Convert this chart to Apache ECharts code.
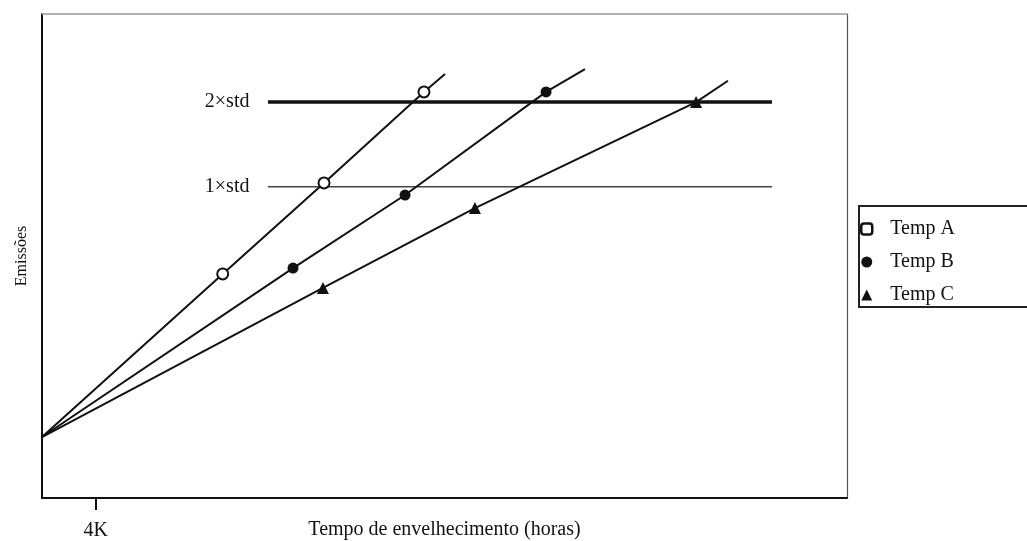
<!DOCTYPE html>
<html>
<head>
<meta charset="utf-8">
<script src="https://cdn.jsdelivr.net/npm/echarts@6/dist/echarts.min.js"></script>
<style>html,body{margin:0;padding:0;background:#fff;}#c{width:1027px;height:541px;}</style>
</head>
<body>
<div id="c"></div>
<script>
// Data (x in thousands of hours, y in arbitrary emission units)
const seriesNames = ['Temp A', 'Temp B', 'Temp C'];
const xTempA = [0, 13.47, 21.02, 28.47, 30.04];
const yTempA = [12.6, 46.3, 65.1, 83.9, 87.6];
const xTempB = [0, 18.71, 27.06, 37.57, 40.47];
const yTempB = [12.6, 47.5, 62.6, 83.9, 88.6];
const xTempC = [0, 20.94, 32.27, 48.75, 51.13];
const yTempC = [12.6, 43.4, 59.9, 81.8, 86.2];
const thresholdLabels = ['2×std', '1×std'];
const thresholdValues = [81.8, 64.3];
const thresholdX = [16.84, 54.41];
const xTickValues = [4];
const xTickLabels = ['4K'];

const FONT = 'Liberation Serif';
function build(xs, ys) {
  return xs.map((x, i) => {
    const d = { value: [x, ys[i]] };
    if (i === 0 || i === xs.length - 1) d.symbol = 'none';
    return d;
  });
}
const symbols = ['emptyCircle', 'circle', 'triangle'];
const dataSets = [[xTempA, yTempA], [xTempB, yTempB], [xTempC, yTempC]];

const series = seriesNames.map((n, k) => ({
  name: n,
  type: 'line',
  data: build(dataSets[k][0], dataSets[k][1]),
  symbol: symbols[k],
  symbolSize: k === 2 ? 12 : 11,
  showSymbol: true,
  lineStyle: { color: '#111', width: 2 },
  itemStyle: { color: '#111', borderColor: '#111', borderWidth: k === 0 ? 2.2 : 0 },
  z: 3
}));

thresholdLabels.forEach((lab, k) => {
  series.push({
    name: lab,
    type: 'line',
    data: [
      { value: [thresholdX[0], thresholdValues[k]], label: { show: true, position: 'left', distance: 18, formatter: lab, fontFamily: FONT, fontSize: 20, color: '#111' } },
      { value: [thresholdX[1], thresholdValues[k]], symbol: 'none' }
    ],
    symbol: 'circle',
    symbolSize: 1,
    showSymbol: true,
    itemStyle: { color: 'rgba(0,0,0,0)' },
    lineStyle: { color: k === 0 ? '#111' : '#444', width: k === 0 ? 3.5 : 1.6 },
    z: 2
  });
});

const chart = echarts.init(document.getElementById('c'), null, { renderer: 'canvas' });
chart.setOption({
  animation: false,
  backgroundColor: '#fff',
  grid: { left: 42, right: 180, top: 14, bottom: 43, containLabel: false, outerBoundsMode: 'none' },
  legend: {
    data: seriesNames.map((n, k) => ({
      name: n,
      icon: k === 0 ? 'roundRect' : (k === 1 ? 'circle' : 'triangle'),
      itemStyle: { color: k === 0 ? '#fff' : '#111', borderColor: '#111', borderWidth: k === 0 ? 2.5 : 0 }
    })),
    orient: 'vertical',
    left: 859,
    top: 206,
    itemWidth: 11,
    itemHeight: 11,
    itemGap: 13,
    padding: [13, 90, 2, 1],
    borderColor: '#222',
    borderWidth: 2,
    borderRadius: 0,
    textStyle: { fontFamily: FONT, fontSize: 20, color: '#111', padding: [0, 0, 0, 13] }
  },
  xAxis: [{
    type: 'value',
    min: 0,
    max: 60,
    name: 'Tempo de envelhecimento (horas)',
    nameLocation: 'middle',
    nameGap: 22,
    nameMoveOverlap: false,
    nameTextStyle: { fontFamily: FONT, fontSize: 20, color: '#111' },
    axisLine: { show: true, onZero: false, lineStyle: { color: '#111', width: 2 } },
    axisTick: { show: true, customValues: xTickValues, length: 12, lineStyle: { color: '#111', width: 2 } },
    axisLabel: { show: true, customValues: xTickValues, formatter: (v) => xTickLabels[xTickValues.indexOf(v)] || '', fontFamily: FONT, fontSize: 20, color: '#111', margin: 23 },
    splitLine: { show: false }
  }, {
    type: 'value', position: 'top', min: 0, max: 60,
    axisLine: { show: true, onZero: false, lineStyle: { color: '#999', width: 1.5 } },
    axisTick: { show: false }, axisLabel: { show: false }, splitLine: { show: false }
  }],
  yAxis: [{
    type: 'value',
    min: 0,
    max: 100,
    name: 'Emissões',
    nameLocation: 'middle',
    nameGap: 12,
    nameTextStyle: { fontFamily: FONT, fontSize: 16, color: '#111' },
    axisLine: { show: true, onZero: false, lineStyle: { color: '#111', width: 2 } },
    axisTick: { show: false },
    axisLabel: { show: false },
    splitLine: { show: false }
  }, {
    type: 'value', position: 'right', min: 0, max: 100,
    axisLine: { show: true, onZero: false, lineStyle: { color: '#555', width: 1.2 } },
    axisTick: { show: false }, axisLabel: { show: false }, splitLine: { show: false }
  }],
  series: series
});
</script>
</body>
</html>
